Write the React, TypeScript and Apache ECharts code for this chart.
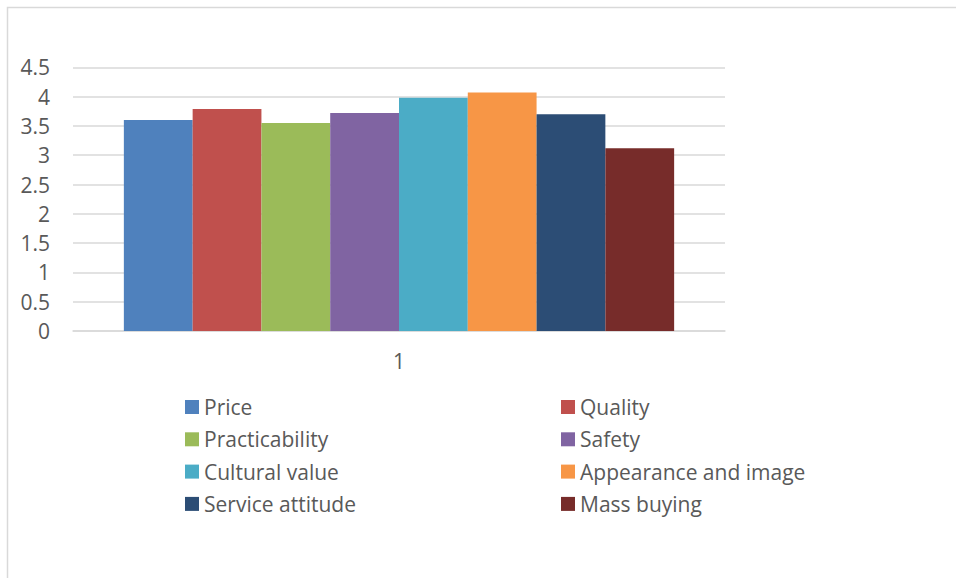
import React, { useEffect, useRef } from "react";
import * as echarts from "echarts";

const categories = ["1"];
const seriesNames = [
  "Price",
  "Quality",
  "Practicability",
  "Safety",
  "Cultural value",
  "Appearance and image",
  "Service attitude",
  "Mass buying",
];
const seriesValues = [3.6, 3.79, 3.55, 3.72, 3.98, 4.07, 3.7, 3.12];
const seriesColors = [
  "#4F81BD",
  "#C0504D",
  "#9BBB59",
  "#8064A2",
  "#4BACC6",
  "#F79646",
  "#2C4D75",
  "#772C2A",
];
const legendLeftColumn = ["Price", "Practicability", "Cultural value", "Service attitude"];
const legendRightColumn = ["Quality", "Safety", "Appearance and image", "Mass buying"];

const FONT = "'Open Sans', sans-serif";
const TEXT_COLOR = "#595959";
const FONT_SIZE = 21;

export default function App() {
  const ref = useRef<HTMLDivElement>(null);

  useEffect(() => {
    document.body.style.margin = "0";
    if (!ref.current) return;
    const chart = echarts.init(ref.current, null, { renderer: "svg" });

    const legendCommon = {
      orient: "vertical" as const,
      top: 396.5,
      padding: 0,
      itemWidth: 14,
      itemHeight: 14,
      itemGap: 11.3,
      icon: "rect",
      textStyle: { fontFamily: FONT, fontSize: FONT_SIZE, color: TEXT_COLOR, lineHeight: 21 },
      selectedMode: false,
    };

    chart.setOption({
      animation: false,
      backgroundColor: "#ffffff",
      grid: { left: 73, right: 231, top: 67.3, bottom: 247, containLabel: false },
      graphic: [
        {
          type: "rect",
          shape: { x: 7.5, y: 7.5, width: 2000, height: 2000 },
          style: { fill: "none", stroke: "#D9D9D9", lineWidth: 1.5 },
          silent: true,
        },
      ],
      legend: [
        { ...legendCommon, left: 185, data: legendLeftColumn },
        { ...legendCommon, left: 561, data: legendRightColumn },
      ],
      xAxis: {
        type: "category",
        data: categories,
        axisLine: { show: true, lineStyle: { color: "#D9D9D9", width: 1.5 } },
        axisTick: { show: false },
        axisLabel: { fontFamily: FONT, fontSize: FONT_SIZE, color: TEXT_COLOR, margin: 19 },
      },
      yAxis: {
        type: "value",
        min: 0,
        max: 4.5,
        interval: 0.5,
        axisLine: { show: false },
        axisTick: { show: false },
        splitLine: { lineStyle: { color: "#D9D9D9", width: 1.5 } },
        axisLabel: { fontFamily: FONT, fontSize: FONT_SIZE, color: TEXT_COLOR, margin: 23 },
      },
      series: seriesNames.map((name, i) => ({
        name,
        type: "bar",
        data: [seriesValues[i]],
        itemStyle: { color: seriesColors[i] },
        barGap: "0%",
        barCategoryGap: "15.6%",
      })),
    });

    return () => chart.dispose();
  }, []);

  return <div ref={ref} style={{ width: 956, height: 578 }} />;
}
